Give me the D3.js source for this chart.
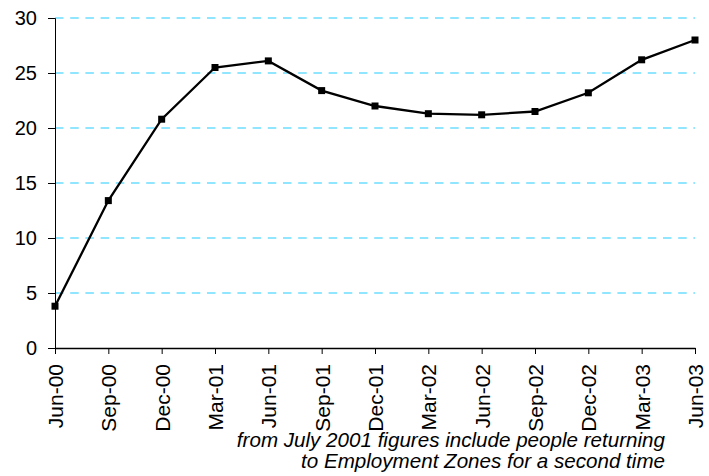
<!DOCTYPE html>
<html>
<head>
<meta charset="utf-8">
<script src="https://cdn.jsdelivr.net/npm/d3@7"></script>
<style>
  body { margin: 0; background: #fff; }
  svg { display: block; font-family: "Liberation Sans", Arial, sans-serif; }
</style>
</head>
<body>
<div id="chart"></div>
<script>
// quarters and values
const quarters = ["Jun-00", "Sep-00", "Dec-00", "Mar-01", "Jun-01", "Sep-01", "Dec-01",
                  "Mar-02", "Jun-02", "Sep-02", "Dec-02", "Mar-03", "Jun-03"];
const values = [3.8, 13.4, 20.8, 25.5, 26.1, 23.4, 22.0, 21.3, 21.2, 21.5, 23.2, 26.2, 28.0];
const yTicks = [0, 5, 10, 15, 20, 25, 30];
const noteLines = ["from July 2001 figures include people returning",
                   "to Employment Zones for a second time"];

const width = 709, height = 476;
const margin = {left: 55, right: 14, top: 18, bottom: 128};

const svg = d3.select("#chart").append("svg")
    .attr("width", width)
    .attr("height", height);

const x = d3.scalePoint()
    .domain(quarters)
    .range([margin.left, width - margin.right]);

const y = d3.scaleLinear()
    .domain([0, 30])
    .range([height - margin.bottom, margin.top]);

// dashed gridlines
svg.append("g")
    .selectAll("line")
    .data(yTicks.filter(d => d > 0))
    .join("line")
    .attr("x1", margin.left)
    .attr("x2", width - margin.right)
    .attr("y1", d => y(d))
    .attr("y2", d => y(d))
    .attr("stroke", "#22ccff")
    .attr("stroke-width", 1.2)
    .attr("stroke-dasharray", "8.5,6.7");

// y axis
const yAxis = svg.append("g")
    .attr("transform", `translate(${margin.left},0)`)
    .call(d3.axisLeft(y).tickValues(yTicks).tickSize(7).tickPadding(11));
yAxis.select(".domain").attr("stroke", "#000");
yAxis.selectAll(".tick line").attr("stroke", "#000");
yAxis.selectAll("text")
    .attr("font-size", 20)
    .attr("fill", "#000")
    .attr("font-family", "Liberation Sans, Arial, sans-serif");

// x axis
const xAxis = svg.append("g")
    .attr("transform", `translate(0,${y(0)})`)
    .call(d3.axisBottom(x).tickSize(6).tickSizeOuter(0));
xAxis.select(".domain").attr("stroke", "#000").attr("stroke-width", 1.3);
xAxis.selectAll(".tick line").attr("stroke", "#000");
xAxis.selectAll("text")
    .attr("font-size", 21)
    .attr("fill", "#000")
    .attr("font-family", "Liberation Sans, Arial, sans-serif")
    .attr("text-anchor", "end")
    .attr("transform", "rotate(-90)")
    .attr("x", -16)
    .attr("y", 0)
    .attr("dy", "0.36em");

// series line
const line = d3.line()
    .x((d, i) => x(quarters[i]))
    .y(d => y(d));

svg.append("path")
    .datum(values)
    .attr("fill", "none")
    .attr("stroke", "#000")
    .attr("stroke-width", 2.3)
    .attr("d", line);

// square markers
svg.append("g")
    .selectAll("rect")
    .data(values)
    .join("rect")
    .attr("x", (d, i) => x(quarters[i]) - 3.5)
    .attr("y", d => y(d) - 3.5)
    .attr("width", 7)
    .attr("height", 7)
    .attr("fill", "#000");

// footnote
svg.append("g")
    .selectAll("text")
    .data(noteLines)
    .join("text")
    .attr("x", 665)
    .attr("y", (d, i) => 447 + i * 21)
    .attr("text-anchor", "end")
    .attr("font-size", 20.6)
    .attr("font-style", "italic")
    .attr("fill", "#000")
    .text(d => d);
</script>
</body>
</html>
